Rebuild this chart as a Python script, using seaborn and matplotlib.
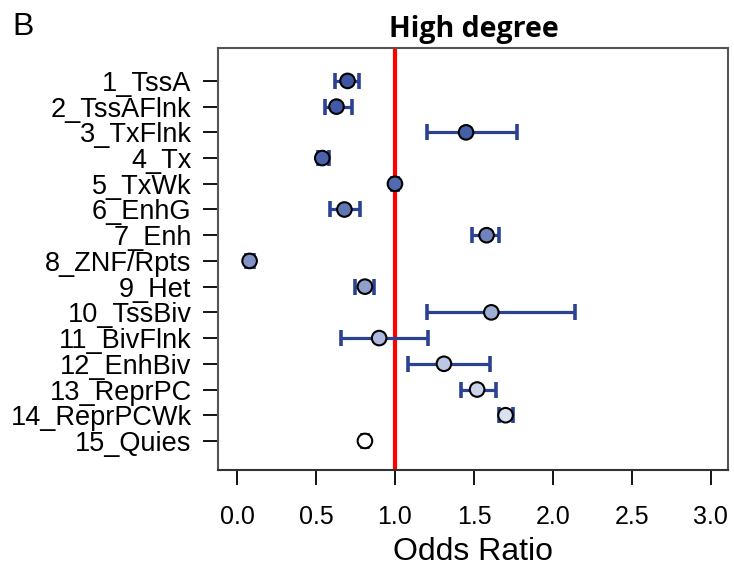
import numpy as np
import pandas as pd
import matplotlib
matplotlib.use("Agg")
import matplotlib.pyplot as plt
import seaborn as sns

states = ["1_TssA", "2_TssAFlnk", "3_TxFlnk", "4_Tx", "5_TxWk", "6_EnhG", "7_Enh",
          "8_ZNF/Rpts", "9_Het", "10_TssBiv", "11_BivFlnk", "12_EnhBiv", "13_ReprPC",
          "14_ReprPCWk", "15_Quies"]
odds = [0.70, 0.63, 1.45, 0.54, 1.00, 0.68, 1.58, 0.08, 0.81, 1.61, 0.90, 1.31, 1.52, 1.70, 0.81]
ci_low = [0.62, 0.56, 1.20, 0.51, 0.98, 0.59, 1.49, 0.06, 0.75, 1.20, 0.66, 1.08, 1.42, 1.66, 0.79]
ci_high = [0.77, 0.73, 1.77, 0.58, 1.02, 0.78, 1.66, 0.11, 0.87, 2.14, 1.21, 1.60, 1.64, 1.75, 0.83]
fill_colors = ["#3F56A3", "#4259A5", "#475EA8", "#4C63AB", "#5169AF", "#6077B6", "#6F84BD",
               "#8092C6", "#8E9FCC", "#9EADD4", "#ADBADB", "#BCC7E3", "#CCD4EA", "#DBE1F1", "#FFFFFF"]
x_ticks = [0.0, 0.5, 1.0, 1.5, 2.0, 2.5, 3.0]

df = pd.DataFrame({"state": states, "odds": odds, "lo": ci_low, "hi": ci_high})

sns.set_style("white")
plt.rcParams["font.family"] = ["Liberation Sans", "DejaVu Sans"]
plt.rcParams["text.color"] = "black"
plt.rcParams["axes.labelcolor"] = "black"
plt.rcParams["xtick.color"] = "black"
plt.rcParams["ytick.color"] = "black"
plt.rcParams["xtick.bottom"] = True
plt.rcParams["ytick.left"] = True

fig = plt.figure(figsize=(7.34, 5.70), dpi=100)
ax = fig.add_axes([218/734, 100/570, 510/734, 422/570])

ypos = np.arange(len(states))
ax.axvline(1.0, color="#FF0000", lw=3.0, zorder=1)
ax.errorbar(df["odds"], ypos, xerr=[df["odds"] - df["lo"], df["hi"] - df["odds"]],
            fmt="none", ecolor="#2A4291", elinewidth=2.3, capsize=6, capthick=2.6, zorder=2)
sns.scatterplot(data=df.assign(y=ypos), x="odds", y="y", hue="state",
                palette=dict(zip(states, fill_colors)), legend=False, s=110,
                edgecolor="black", linewidth=1.5, ax=ax, zorder=3)

ax.set_xlim(-0.12, 3.108)
ax.set_ylim(len(states) - 1 + 1.13, -1.28)
ax.set_yticks(ypos)
ax.set_yticklabels(states)
ax.set_xticks(x_ticks)
ax.set_xticklabels([f"{v:.1f}" for v in x_ticks])
ax.tick_params(axis="x", bottom=True, length=11, width=1.3, pad=14, labelsize=18, colors="black")
ax.tick_params(axis="y", left=True, length=11, width=1.3, pad=8, labelsize=19.5, colors="black")
ax.set_xlabel("Odds Ratio", fontsize=23, labelpad=6, color="black")
ax.set_ylabel("")
for name, s in ax.spines.items():
    s.set_visible(True)
    s.set_color("#555555" if name != "bottom" else "#333333")
    s.set_linewidth(1.5)

fig.text(474/734, 1 - 30/570, "High degree", ha="center", va="center",
         fontsize=20.5, fontweight="bold", family=["Open Sans", "DejaVu Sans"])
fig.text(12/734, 1 - 27/570, "B", ha="left", va="center", fontsize=23)

fig.savefig("out.png", dpi=100)
